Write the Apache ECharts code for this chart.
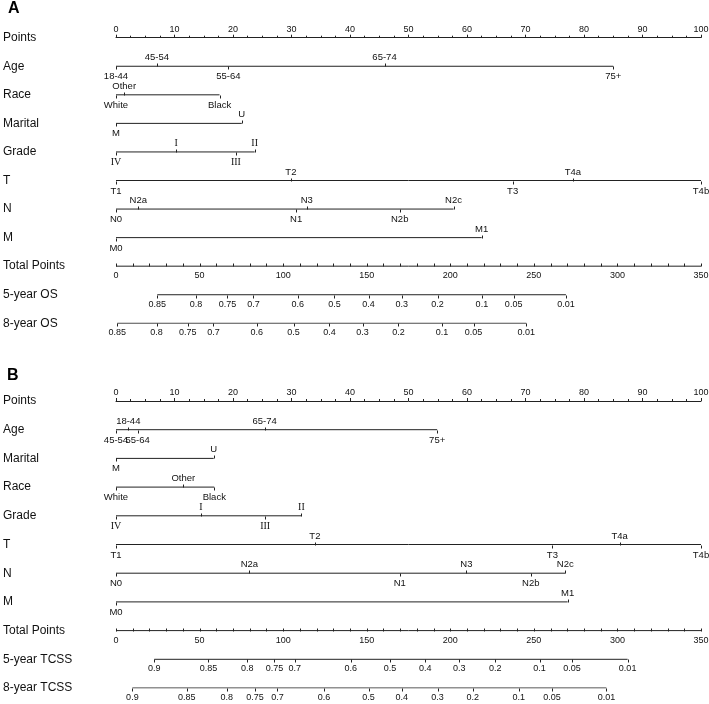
<!DOCTYPE html>
<html><head><meta charset="utf-8">
<script src="https://cdn.jsdelivr.net/npm/echarts@6/dist/echarts.min.js"></script>
<style>html,body{margin:0;padding:0;background:#fff}#c{width:709px;height:704px}</style>
</head><body><div id="c"></div><script>
// ---------- Panel A (OS) ----------
const rowsA = ['Points','Age','Race','Marital','Grade','T','N','M','Total Points','5-year OS','8-year OS'];
const ageLevelsA = ['18-44','45-54','55-64','65-74','75+'];
const agePointsA = [0, 7.0, 19.2, 45.9, 85.0];
const raceLevelsA = ['White','Other','Black'];
const racePointsA = [0, 1.4, 17.7];
const maritalLevelsA = ['M','U'];
const maritalPointsA = [0, 21.5];
const gradeLevelsA = ['IV','I','III','II'];
const gradePointsA = [0, 10.3, 20.5, 23.7];
const tLevelsA = ['T1','T2','T3','T4a','T4b'];
const tPointsA = [0, 29.9, 67.8, 78.1, 100];
const nLevelsA = ['N0','N2a','N1','N3','N2b','N2c'];
const nPointsA = [0, 3.8, 30.8, 32.6, 48.5, 57.7];
const mLevelsA = ['M0','M1'];
const mPointsA = [0, 62.5];
const os5LabelsA = ['0.85','0.8','0.75','0.7','0.6','0.5','0.4','0.3','0.2','0.1','0.05','0.01'];
const os5TotalA  = [24.7, 47.9, 66.7, 82.2, 108.8, 130.7, 151.1, 171.0, 192.4, 218.9, 237.9, 269.2];
const os8LabelsA = ['0.85','0.8','0.75','0.7','0.6','0.5','0.4','0.3','0.2','0.1','0.05','0.01'];
const os8TotalA  = [0.8, 24.3, 42.9, 58.3, 84.2, 106.2, 127.7, 147.5, 169.0, 195.0, 213.9, 245.5];

// ---------- Panel B (TCSS) ----------
const rowsB = ['Points','Age','Marital','Race','Grade','T','N','M','Total Points','5-year TCSS','8-year TCSS'];
const ageLevelsB = ['45-54','18-44','55-64','65-74','75+'];
const agePointsB = [0, 2.1, 3.7, 25.4, 54.9];
const maritalLevelsB = ['M','U'];
const maritalPointsB = [0, 16.7];
const raceLevelsB = ['White','Other','Black'];
const racePointsB = [0, 11.5, 16.8];
const gradeLevelsB = ['IV','I','III','II'];
const gradePointsB = [0, 14.5, 25.5, 31.7];
const tLevelsB = ['T1','T2','T3','T4a','T4b'];
const tPointsB = [0, 34.0, 74.6, 86.1, 100];
const nLevelsB = ['N0','N2a','N1','N3','N2b','N2c'];
const nPointsB = [0, 22.8, 48.5, 59.9, 70.9, 76.8];
const mLevelsB = ['M0','M1'];
const mPointsB = [0, 77.2];
const tcss5LabelsB = ['0.9','0.85','0.8','0.75','0.7','0.6','0.5','0.4','0.3','0.2','0.1','0.05','0.01'];
const tcss5TotalB  = [22.9, 55.3, 78.6, 94.8, 107.0, 140.5, 164.0, 185.0, 205.3, 226.9, 253.4, 272.8, 306.1];
const tcss8LabelsB = ['0.9','0.85','0.8','0.75','0.7','0.6','0.5','0.4','0.3','0.2','0.1','0.05','0.01'];
const tcss8TotalB  = [9.8, 42.3, 66.3, 83.2, 96.6, 124.5, 151.1, 171.0, 192.4, 213.5, 240.9, 260.8, 293.4];

// ---------- Shared axes ----------
const pointsMax = 100;
const totalMax = 350;
const totalTicks  = [0,10,20,30,40,50,60,70,80,90,100,110,120,130,140,150,160,170,180,190,200,210,220,230,240,250,260,270,280,290,300,310,320,330,340,350];
const totalLabels = [0,50,100,150,200,250,300,350];

const LINE = '#222';
const TEXT = '#111';
const SANS = '"Liberation Sans Narrow","Liberation Sans",Arial,sans-serif';
const SERIF = '"Liberation Serif","DejaVu Serif",serif';

function px(v){ return Math.round(v) + 0.5; }

// label side: alternate below/above in order of increasing points
function sidesFor(values){
  const order = values.map((v,i)=>i).sort((a,b)=>values[a]-values[b]);
  const s = new Array(values.length);
  order.forEach((idx,k)=>{ s[idx] = (k%2===0) ? 'below' : 'above'; });
  return s;
}

function tickRender(labels, sides, font, fsize, tickUp){
  return function(params, api){
    const i = params.dataIndex;
    const c = api.coord([api.value(0), api.value(1)]);
    const x = px(c[0]), y = px(c[1]);
    const up = sides[i] === 'above';
    const tUp = tickUp === undefined ? up : tickUp;
    const children = [{
      type:'line', shape:{x1:x, y1:y, x2:x, y2: tUp ? y-3 : y+3},
      style:{stroke:LINE, lineWidth:1}
    }];
    if (labels[i] !== null && labels[i] !== undefined) {
      children.push({
        type:'text', x:c[0], y: up ? y-4 : y+5,
        style:{text:labels[i], fill:TEXT, fontSize:fsize, fontFamily:font,
               align:'center', verticalAlign: up ? 'bottom' : 'top'}
      });
    }
    return {type:'group', children};
  };
}

function buildPanel(p, rows, vars, probs, gridPos){
  const xi = p*2, yi = p;
  const grid = Object.assign({left:116, right:8, containLabel:false, outerBoundsMode:'none'}, gridPos);
  const xAxes = [
    {gridIndex:p, type:'value', position:'top', min:0, max:pointsMax, interval:10,
     axisLine:{show:true, lineStyle:{color:LINE, width:1}},
     axisTick:{show:true, length:3, lineStyle:{color:LINE}},
     minorTick:{show:true, splitNumber:4, length:2, lineStyle:{color:LINE}},
     splitLine:{show:false}, minorSplitLine:{show:false},
     axisLabel:{margin:4, fontSize:9, color:TEXT, fontFamily:SANS}},
    {gridIndex:p, type:'value', position:'bottom', min:0, max:totalMax, show:false, splitLine:{show:false}}
  ];
  const yAxis = {gridIndex:p, type:'value', min:0, max:10, interval:1, inverse:true,
    axisLine:{show:false}, axisTick:{show:false}, splitLine:{show:false},
    axisLabel:{formatter:v=>rows[v] || '', align:'left', margin:113, fontSize:12, color:TEXT, fontFamily:SANS}};
  const series = [];
  function addRow(r, values, labels, xIndex, sides, font, fsize, tickUp){
    const lo = Math.min.apply(null, values), hi = Math.max.apply(null, values);
    series.push({type:'line', xAxisIndex:xIndex, yAxisIndex:yi, data:[[lo,r],[hi,r]],
      symbol:'none', silent:true, animation:false, lineStyle:{color:LINE, width:1}});
    series.push({type:'custom', xAxisIndex:xIndex, yAxisIndex:yi, silent:true, animation:false,
      data: values.map(v=>[v,r]), renderItem: tickRender(labels, sides, font, fsize, tickUp)});
  }
  vars.forEach((v, k)=>{
    addRow(k+1, v.points, v.levels, xi, sidesFor(v.points), v.serif ? SERIF : SANS, v.serif ? 10 : 9.5);
  });
  // Total points row: ticks upward, labels below
  addRow(8, totalTicks, totalTicks.map(t => totalLabels.indexOf(t) >= 0 ? String(t) : null), xi+1,
         totalTicks.map(()=> 'below'), SANS, 9, true);
  probs.forEach((pr, k)=>{
    addRow(9+k, pr.total, pr.labels, xi+1, pr.total.map(()=> 'below'), SANS, 9, false);
  });
  return {grid, xAxes, yAxis, series};
}

const A = buildPanel(0, rowsA, [
  {levels:ageLevelsA, points:agePointsA},
  {levels:raceLevelsA, points:racePointsA},
  {levels:maritalLevelsA, points:maritalPointsA},
  {levels:gradeLevelsA, points:gradePointsA, serif:true},
  {levels:tLevelsA, points:tPointsA},
  {levels:nLevelsA, points:nPointsA},
  {levels:mLevelsA, points:mPointsA}
], [
  {labels:os5LabelsA, total:os5TotalA},
  {labels:os8LabelsA, total:os8TotalA}
], {top:37.7, height:285.6});

const B = buildPanel(1, rowsB, [
  {levels:ageLevelsB, points:agePointsB},
  {levels:maritalLevelsB, points:maritalPointsB},
  {levels:raceLevelsB, points:racePointsB},
  {levels:gradeLevelsB, points:gradePointsB, serif:true},
  {levels:tLevelsB, points:tPointsB},
  {levels:nLevelsB, points:nPointsB},
  {levels:mLevelsB, points:mPointsB}
], [
  {labels:tcss5LabelsB, total:tcss5TotalB},
  {labels:tcss8LabelsB, total:tcss8TotalB}
], {top:401, height:287});

const chart = echarts.init(document.getElementById('c'), null, {renderer:'canvas'});
chart.setOption({
  animation:false,
  backgroundColor:'#fff',
  title:[
    {text:'A', left:8, top:1, padding:0, textStyle:{fontSize:16, fontWeight:'bold', color:'#000', fontFamily:'"Liberation Sans",Arial,sans-serif'}},
    {text:'B', left:7, top:368, padding:0, textStyle:{fontSize:16, fontWeight:'bold', color:'#000', fontFamily:'"Liberation Sans",Arial,sans-serif'}}
  ],
  grid:[A.grid, B.grid],
  xAxis: A.xAxes.concat(B.xAxes),
  yAxis: [A.yAxis, B.yAxis],
  series: A.series.concat(B.series)
});
</script></body></html>
